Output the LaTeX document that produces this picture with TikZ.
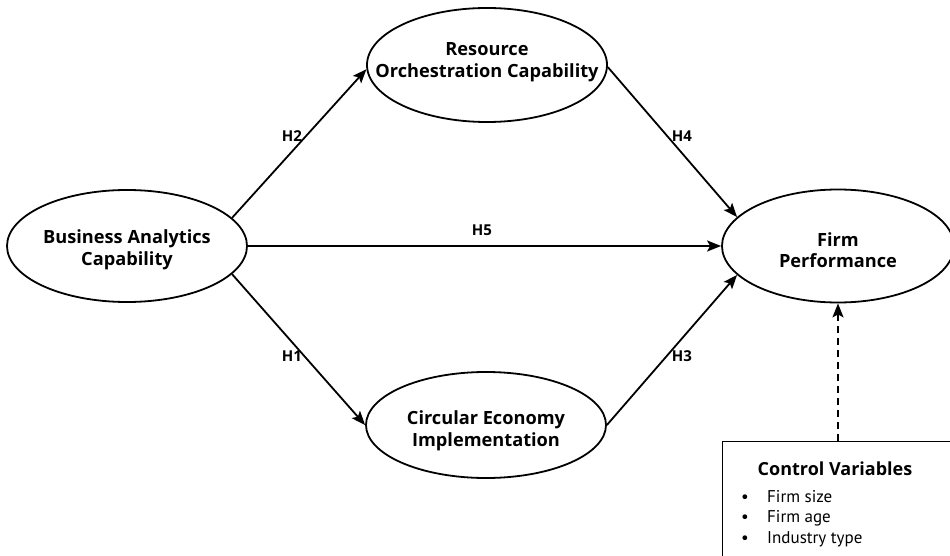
\documentclass[tikz,border=0pt]{standalone}
\usepackage{fontspec}
\setmainfont{PT Sans}
\newfontfamily\headfont{Open Sans}
\usetikzlibrary{shapes.geometric,arrows.meta}
\begin{document}
\begin{tikzpicture}[x=1pt,y=-1pt,
  construct/.style={ellipse, draw, line width=1.8pt, inner sep=0pt,
    minimum width=240pt, minimum height=112pt},
  ctext/.style={align=center, inner sep=0pt,
    font=\headfont\fontsize{18.2}{21.5}\selectfont\bfseries},
  effect/.style={line width=1.8pt, -{Stealth[length=14pt,width=11pt,inset=3pt]}},
  hyp/.style={font=\headfont\fontsize{15}{16}\selectfont\bfseries, inner sep=0pt},
  item/.style={anchor=west, inner sep=0pt, font=\fontsize{17}{18}\selectfont}]
\useasboundingbox (0,0) rectangle (950,556);
\clip (0,0) rectangle (950,556);
\fill[white] (0,0) rectangle (950,556);

% constructs
\node[construct] (bac) at (127,246) {};
\node[ctext] at (127,250) {Business Analytics\\Capability};
\node[construct, minimum height=114pt] (roc) at (487,65) {};
\node[ctext] at (487,62) {Resource\\Orchestration Capability};
\node[construct, minimum height=106pt] (cei) at (486,425) {};
\node[ctext] at (486,431) {Circular Economy\\Implementation};
\node[construct, minimum width=232pt, minimum height=113pt] (fp) at (838,246) {};
\node[ctext] at (838,250) {Firm\\Performance};

% control variables box
\node[draw, line width=1pt, inner sep=0pt, minimum width=260pt,
  minimum height=140pt, anchor=north west] (cv) at (722,441) {};
\node[inner sep=0pt, font=\headfont\fontsize{18}{20}\selectfont\bfseries] (cvt) at (835,469) {Control Variables};
\node[item] (c1) at (741,497) {\makebox[26pt][l]{\textbullet}Firm size};
\node[item] (c2) at (741,518) {\makebox[26pt][l]{\textbullet}Firm age};
\node[item] (c3) at (741,539) {\makebox[26pt][l]{\textbullet}Industry type};

% hypothesised paths
\draw[effect] (bac.15) -- (roc.182);
\draw[effect] (bac.-15) -- (cei.180);
\draw[effect] (bac.east) -- (fp.west);
\draw[effect] (roc.-1) -- (fp.164);
\draw[effect] (cei.0) -- (fp.196);
\draw[line width=1.8pt, dash pattern=on 7pt off 5pt,
  -{Stealth[length=14pt,width=11pt,inset=3pt]}] (fp.south |- cv.north) -- (fp.south);

% path labels
\node[hyp] at (292,136) {H2};
\node[hyp] at (682,136) {H4};
\node[hyp] at (482,230) {H5};
\node[hyp] at (292,356) {H1};
\node[hyp] at (682,356) {H3};
\end{tikzpicture}
\end{document}
